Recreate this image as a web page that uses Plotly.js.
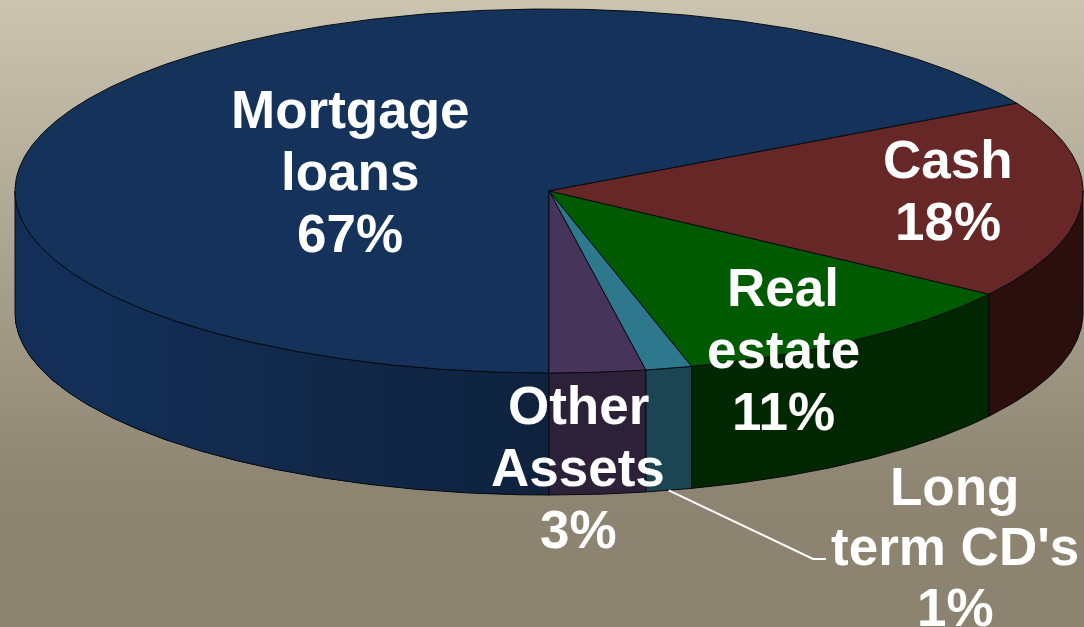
<!DOCTYPE html>
<html><head><meta charset="utf-8">
<script src="https://cdn.plot.ly/plotly-3.0.1.min.js"></script>
<style>
html,body{margin:0;padding:0;width:1084px;height:627px;overflow:hidden;
background:linear-gradient(180deg,#cac4b1 0%,#8d8572 78%,#8b8370 100%);}
#c{width:1084px;height:627px;}
</style></head><body><div id="c"></div>
<script>
// Data
const categories = ["Mortgage loans","Cash","Real estate","Long term CD's","Other Assets"];
const shares = [67.0,17.6,11.1,1.4,2.9];
const topColors = ["#15335a","#672727","#005a00","#2e788e","#47345a"];
const sideColors = ["#12294a","#2a0f0c","#002700","#1c4553","#2c2138"];
const labelLines = [["Mortgage","loans","67%"],["Cash","18%"],["Real","estate","11%"],["Long","term CD's","1%"],["Other","Assets","3%"]];
const labelX = [350,948,783,955,578];
const labelY = [[109,171,233],[159,221],[288,349,411],[486,546,607],[405,467,529]];

// Geometry of the tilted disc, in pixels of the 1084x627 page
const W=1084,H=627,CX=549,CY=191,RX=534,RY=182,DEPTH=122/182;
const rad=d=>d*Math.PI/180;
const arc=(a,b,drop)=>{const n=Math.max(2,Math.ceil(Math.abs(b-a)*2));const xs=[],ys=[];
  for(let i=0;i<=n;i++){const t=rad(a+(b-a)*i/n);xs.push(Math.cos(t));ys.push(Math.sin(t)-drop);}return {xs,ys};};
const outline="#070b10";
const traces=[];
const poly=(x,y,fill,line)=>traces.push({type:"scatter",mode:"lines",x,y,fill:"toself",fillcolor:fill,
  line:{color:line||fill,width:line?1:0},hoverinfo:"skip",showlegend:false});
const mix=(p,q,t)=>{const h=s=>[1,3,5].map(i=>parseInt(s.substr(i,2),16));const a=h(p),b=h(q);
  return "rgb("+a.map((v,i)=>Math.round(v+(b[i]-v)*t)).join(",")+")";};

// Slices run clockwise from 12 o'clock at the front of the disc
const total=shares.reduce((a,b)=>a+b,0);
let ang=-90;const spans=shares.map(s=>{const a=ang;ang-=s/total*360;return [a,ang];});

// Side faces (only the front half of the wall is visible)
spans.forEach(([a,b],i)=>{
  const segs=[];
  for(const k of [0,-360]){const hi=Math.min(a,0+k),lo=Math.max(b,-180+k);if(hi>lo)segs.push([hi,lo]);}
  segs.forEach(([hi,lo])=>{
    if(i===0){ // mortgage wall lightens slowly away from the front; each band overlaps the next
      const bands=20;
      for(let j=0;j<bands;j++){
        const p=hi+(lo-hi)*j/bands;
        const u=arc(p,lo,0),v=arc(lo,p,DEPTH);
        poly(u.xs.concat(v.xs),u.ys.concat(v.ys),mix("#0f233f","#132f57",Math.min(1,j/(bands*0.6))));
      }
    }
    const u=arc(hi,lo,0),v=arc(lo,hi,DEPTH);
    const x=u.xs.concat(v.xs),y=u.ys.concat(v.ys);x.push(x[0]);y.push(y[0]);
    if(i===0) traces.push({type:"scatter",mode:"lines",x,y,line:{color:outline,width:1},hoverinfo:"skip",showlegend:false});
    else poly(x,y,sideColors[i],outline);
  });
});

// Top faces
spans.forEach(([a,b],i)=>{
  const u=arc(a,b,0);
  poly([0].concat(u.xs,[0]),[0].concat(u.ys,[0]),topColors[i],outline);
});

// Leader line from the 1% slice to its label
const cd=spans[3],mid=rad((cd[0]+cd[1])/2);
traces.push({type:"scatter",mode:"lines",
  x:[Math.cos(mid),(813-CX)/RX,(826-CX)/RX],
  y:[Math.sin(mid)-DEPTH,(CY-559)/RY,(CY-559)/RY],
  line:{color:"#ffffff",width:2},hoverinfo:"skip",showlegend:false});

const annotations=[];
labelLines.forEach((lines,i)=>lines.forEach((t,j)=>annotations.push({
  text:t,xref:"paper",yref:"paper",x:labelX[i]/W,y:1-labelY[i][j]/H,xanchor:"center",yanchor:"middle",
  showarrow:false,font:{family:"Liberation Sans, Arial, sans-serif",size:53,color:"#ffffff",weight:700}})));

const hiddenAxis=r=>({range:r,visible:false,fixedrange:true,showgrid:false,zeroline:false});
Plotly.newPlot("c",traces,{
  width:W,height:H,margin:{l:0,r:0,t:0,b:0},
  paper_bgcolor:"rgba(0,0,0,0)",plot_bgcolor:"rgba(0,0,0,0)",
  xaxis:hiddenAxis([-CX/RX,(W-CX)/RX]),
  yaxis:hiddenAxis([(CY-H)/RY,CY/RY]),
  annotations,showlegend:false
},{displayModeBar:false,staticPlot:true});
</script></body></html>
